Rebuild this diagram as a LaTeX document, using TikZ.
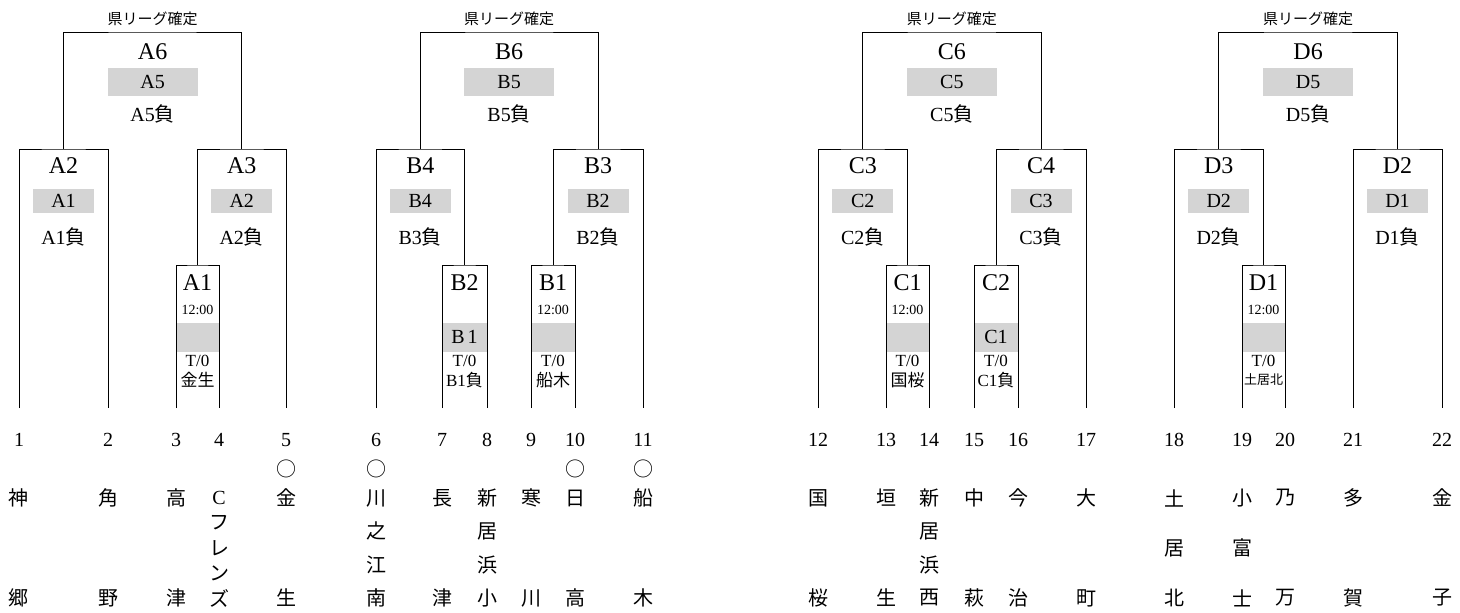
\documentclass[tikz,border=0pt]{standalone}
\usepackage{fontspec}
\setmainfont{Liberation Serif}
\newfontfamily\jpfont{Noto Sans CJK JP}
\usepackage{tikz}
\usetikzlibrary{calc, positioning}
\tikzset{
	bracket/.style={line width=1pt}
}
\tikzset{
	titletext/.style={font=\fontsize{24}{24}\selectfont, inner sep=0pt}
}
\tikzset{
	labeltext/.style={font=\fontsize{20}{20}\selectfont, inner sep=0pt}
}
\tikzset{
	slottext/.style={font=\fontsize{17}{17}\selectfont, inner sep=0pt}
}
\tikzset{
	timetext/.style={font=\fontsize{14}{14}\selectfont, inner sep=0pt}
}
\tikzset{
	leaguetext/.style={font=\fontsize{15}{15}\selectfont\jpfont, inner sep=0pt}
}
\tikzset{
	shadebox/.style={fill=black!17, inner sep=0pt, font=\fontsize{20}{20}\selectfont}
}
\tikzset{
	numtext/.style={font=\fontsize{20}{20}\selectfont, inner sep=0pt},
	teamtext/.style={font=\fontsize{20}{20}\selectfont\jpfont, inner sep=0pt}
}
\newcommand{\jp}[1]{{\jpfont #1}}
% block final: league label, title, shaded slot, loser line
\newcommand{\topmatch}[4]{%
  \node[leaguetext] (#1k) at ($(#1)+(0,-13)$) {県リーグ確定};
  \node[titletext] (#1t) at ($(#1)+(0,20)$) {#2};
  \node[shadebox, minimum width=90pt, minimum height=28pt] (#1g) at ($(#1)+(0,50)$) {#3};
  \node[labeltext] (#1l) at ($(#1)+(0,82)$) {#4};
}
% second round
\newcommand{\midmatch}[4]{%
  \node[titletext] (#1t) at ($(#1)+(0,17)$) {#2};
  \node[shadebox, minimum width=61pt, minimum height=24pt] (#1g) at ($(#1)+(0,52)$) {#3};
  \node[labeltext] (#1l) at ($(#1)+(0,88)$) {#4};
}
% first round
\newcommand{\firstmatch}[4]{%
  \node[titletext] (#1t) at ($(#1)+(0,18)$) {#2};
  \node[shadebox, minimum width=44pt, minimum height=29pt] (#1g) at ($(#1)+(0,72)$) {#3};
  \node[slottext] (#1o) at ($(#1)+(0,96)$) {T/0};
  \node[slottext] (#1l) at ($(#1)+(0,115)$) {#4};
}
% team name written downwards between y=498 and y=598
\newcommand{\teamname}[3]{%
  \foreach \ch [count=\nn from 0] in {#3}
    \node[teamtext] (name#1-\nn) at ($(t#1)+(0,{90+\nn*100/(#2-1)})$) {\ch};
}

\begin{document}
\begin{tikzpicture}[x=1pt, y=-1pt]
  \useasboundingbox (0,0) rectangle (1460,613);
  % team slots and numbers
  \foreach \i/\x in {1/19, 2/108, 3/176, 4/219, 5/286, 6/376, 7/442, 8/487, 9/531, 10/575, 11/643,
      12/818, 13/886, 14/929, 15/974, 16/1018, 17/1086, 18/1174, 19/1242, 20/1285, 21/1353, 22/1442}
  {
    \coordinate (t\i) at (\x,408);
    \node[numtext] (n\i) at (\x,440) {\i};
  }
  % match tops
  \coordinate (mA1) at (197.5,265);
  \coordinate (mA2) at (63.5,149);
  \coordinate (mA3) at (241.75,149);
  \coordinate (mA6) at (152.6,32);
  \coordinate (mB2) at (464.5,265);
  \coordinate (mB1) at (553,265);
  \coordinate (mB4) at (420.25,149);
  \coordinate (mB3) at (598,149);
  \coordinate (mB6) at (509.1,32);
  \coordinate (mC1) at (907.5,265);
  \coordinate (mC2) at (996,265);
  \coordinate (mC3) at (862.75,149);
  \coordinate (mC4) at (1041,149);
  \coordinate (mC6) at (951.9,32);
  \coordinate (mD1) at (1263.5,265);
  \coordinate (mD3) at (1218.75,149);
  \coordinate (mD2) at (1397.5,149);
  \coordinate (mD6) at (1308.1,32);

  % block A
  \topmatch{mA6}{A6}{A5}{A5\jp{負}}
  \midmatch{mA2}{A2}{A1}{A1\jp{負}}
  \midmatch{mA3}{A3}{A2}{A2\jp{負}}
  \firstmatch{mA1}{A1}{}{\jp{金生}}
  % block B
  \topmatch{mB6}{B6}{B5}{B5\jp{負}}
  \midmatch{mB4}{B4}{B4}{B3\jp{負}}
  \midmatch{mB3}{B3}{B2}{B2\jp{負}}
  \firstmatch{mB2}{B2}{B\hspace{3pt}1}{B1\jp{負}}
  \firstmatch{mB1}{B1}{}{\jp{船木}}
  % block C
  \topmatch{mC6}{C6}{C5}{C5\jp{負}}
  \midmatch{mC3}{C3}{C2}{C2\jp{負}}
  \midmatch{mC4}{C4}{C3}{C3\jp{負}}
  \firstmatch{mC1}{C1}{}{\jp{国桜}}
  \firstmatch{mC2}{C2}{C1}{C1\jp{負}}
  % block D
  \topmatch{mD6}{D6}{D5}{D5\jp{負}}
  \midmatch{mD3}{D3}{D2}{D2\jp{負}}
  \midmatch{mD2}{D2}{D1}{D1\jp{負}}
  \firstmatch{mD1}{D1}{}{\jp{\fontsize{13}{13}\selectfont 土居北}}
  % kick-off times
  \foreach \m in {mA1, mB1, mC1, mD1}
    \node[timetext] (\m c) at ($(\m)+(0,45)$) {12:00};

  % brackets
  \draw[bracket] (t3) |- (mA1) -| (t4);
  \draw[bracket] (t1) |- (mA2) -| (t2);
  \draw[bracket] (mA1) |- (mA3) -| (t5);
  \draw[bracket] (mA2) |- (mA6) -| (mA3);
  \draw[bracket] (t7) |- (mB2) -| (t8);
  \draw[bracket] (t9) |- (mB1) -| (t10);
  \draw[bracket] (t6) |- (mB4) -| (mB2);
  \draw[bracket] (mB1) |- (mB3) -| (t11);
  \draw[bracket] (mB4) |- (mB6) -| (mB3);
  \draw[bracket] (t13) |- (mC1) -| (t14);
  \draw[bracket] (t15) |- (mC2) -| (t16);
  \draw[bracket] (t12) |- (mC3) -| (mC1);
  \draw[bracket] (mC2) |- (mC4) -| (t17);
  \draw[bracket] (mC3) |- (mC6) -| (mC4);
  \draw[bracket] (t19) |- (mD1) -| (t20);
  \draw[bracket] (t18) |- (mD3) -| (mD1);
  \draw[bracket] (t21) |- (mD2) -| (t22);
  \draw[bracket] (mD3) |- (mD6) -| (mD2);

  % seeded teams
  \foreach \i in {5, 6, 10, 11}
    \node[teamtext] (o\i) at ($(t\i)+(0,61)$) {○};
  % team names
  \teamname{1}{2}{神,郷}
  \teamname{2}{2}{角,野}
  \teamname{3}{2}{高,津}
  \teamname{4}{5}{{\rmfamily C},フ,レ,ン,ズ}
  \teamname{5}{2}{金,生}
  \teamname{6}{4}{川,之,江,南}
  \teamname{7}{2}{長,津}
  \teamname{8}{4}{新,居,浜,小}
  \teamname{9}{2}{寒,川}
  \teamname{10}{2}{日,高}
  \teamname{11}{2}{船,木}
  \teamname{12}{2}{国,桜}
  \teamname{13}{2}{垣,生}
  \teamname{14}{4}{新,居,浜,西}
  \teamname{15}{2}{中,萩}
  \teamname{16}{2}{今,治}
  \teamname{17}{2}{大,町}
  \teamname{18}{3}{土,居,北}
  \teamname{19}{3}{小,富,士}
  \teamname{20}{2}{乃,万}
  \teamname{21}{2}{多,賀}
  \teamname{22}{2}{金,子}
\end{tikzpicture}
\end{document}
